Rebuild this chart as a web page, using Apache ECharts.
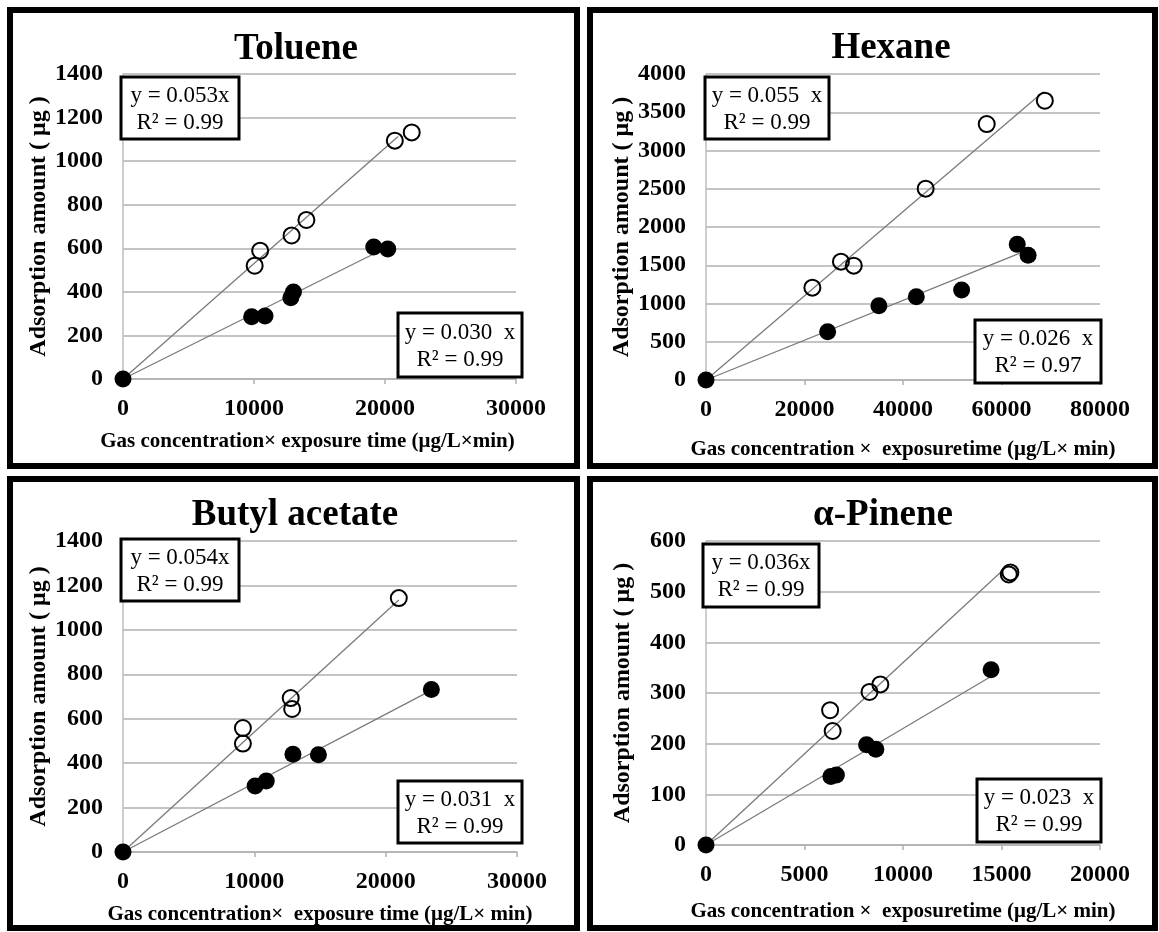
<!DOCTYPE html>
<html>
<head>
<meta charset="utf-8">
<script src="https://cdn.jsdelivr.net/npm/echarts@6/dist/echarts.min.js"></script>
<style>
  html, body { margin: 0; padding: 0; background: #fff; }
  #chart { width: 1159px; height: 932px; }
</style>
</head>
<body>
<div id="chart"></div>
<script>
// Adsorption amount vs. gas concentration × exposure time, four VOCs.
const panelTitles = ['Toluene', 'Hexane', 'Butyl acetate', 'α-Pinene'];
const xAxisNames = [
  'Gas concentration× exposure time (μg/L×min)',
  'Gas concentration ×  exposuretime (μg/L× min)',
  'Gas concentration×  exposure time (μg/L× min)',
  'Gas concentration ×  exposuretime (μg/L× min)'
];
const yAxisName = 'Adsorption amount ( μg )';

// x / y axis ranges and steps
const xMaxes = [30000, 80000, 30000, 20000];
const xSteps = [10000, 20000, 10000, 5000];
const yMaxes = [1400, 4000, 1400, 600];
const ySteps = [200, 500, 200, 100];

// Toluene
const tolueneOpenX = [10050, 10470, 12870, 14000, 20750, 22040];
const tolueneOpenY = [520, 589, 659, 730, 1094, 1132];
const tolueneFilledX = [0, 9820, 10840, 12810, 13010, 19140, 20210];
const tolueneFilledY = [0, 286, 289, 373, 399, 606, 597];

// Hexane
const hexaneOpenX = [21600, 27400, 30000, 44600, 57000, 68800];
const hexaneOpenY = [1207, 1547, 1495, 2501, 3346, 3651];
const hexaneFilledX = [0, 24700, 35100, 42700, 51900, 63200, 65400];
const hexaneFilledY = [0, 632, 972, 1089, 1176, 1773, 1630];

// Butyl acetate
const butylOpenX = [9130, 9130, 12770, 12880, 21000];
const butylOpenY = [558, 488, 693, 644, 1143];
const butylFilledX = [0, 10060, 10910, 12940, 14880, 23480];
const butylFilledY = [0, 297, 320, 440, 438, 732];

// α-Pinene
const pineneOpenX = [6300, 6430, 8300, 8850, 15370, 15450];
const pineneOpenY = [266, 225, 302, 317, 534, 538];
const pineneFilledX = [0, 6340, 6620, 8150, 8620, 14470];
const pineneFilledY = [0, 135, 138, 198, 189, 346];

// Fitted slopes (line through origin) and fit ranges
const openSlopes = [0.053, 0.055, 0.054, 0.036];
const filledSlopes = [0.030, 0.026, 0.031, 0.023];
const openFitEnd = [21000, 68500, 21000, 15300];
const filledFitEnd = [20200, 64500, 23500, 14400];

// Equation labels
const openEqText = ['y = 0.053x', 'y = 0.055  x', 'y = 0.054x', 'y = 0.036x'];
const openR2Text = ['R² = 0.99', 'R² = 0.99', 'R² = 0.99', 'R² = 0.99'];
const filledEqText = ['y = 0.030  x', 'y = 0.026  x', 'y = 0.031  x', 'y = 0.023  x'];
const filledR2Text = ['R² = 0.99', 'R² = 0.97', 'R² = 0.99', 'R² = 0.99'];

const openX = [tolueneOpenX, hexaneOpenX, butylOpenX, pineneOpenX];
const openY = [tolueneOpenY, hexaneOpenY, butylOpenY, pineneOpenY];
const filledX = [tolueneFilledX, hexaneFilledX, butylFilledX, pineneFilledX];
const filledY = [tolueneFilledY, hexaneFilledY, butylFilledY, pineneFilledY];

// ---- layout ----
const SERIF = '"Liberation Serif", "Times New Roman", serif';
const grids = [
  { left: 123, top: 74, width: 393, height: 305 },
  { left: 706, top: 74, width: 394, height: 306 },
  { left: 123, top: 541, width: 394, height: 311 },
  { left: 706, top: 541, width: 394, height: 304 }
];
const frames = [
  { x: 10, y: 10, width: 567, height: 456 },
  { x: 590, y: 10, width: 565, height: 456 },
  { x: 10, y: 479, width: 567, height: 449 },
  { x: 590, y: 479, width: 565, height: 449 }
];
const xNameGaps = [52, 59, 52, 56];
const xNamePadding = [[0, 24, 0, 0], [0, 0, 0, 0], [0, 0, 0, 0], [0, 0, 0, 0]];
const titlePos = [[296, 49], [891, 48], [295, 515], [883, 515]];
const boxTL = [
  { x: 121, y: 77, w: 118, h: 62 },
  { x: 705, y: 77, w: 124, h: 62 },
  { x: 121, y: 539, w: 118, h: 62 },
  { x: 703, y: 544, w: 116, h: 63 }
];
const boxBR = [
  { x: 398, y: 313, w: 124, h: 64 },
  { x: 975, y: 320, w: 126, h: 63 },
  { x: 398, y: 781, w: 124, h: 62 },
  { x: 977, y: 779, w: 124, h: 63 }
];

const zip = (xs, ys) => xs.map((x, i) => [x, ys[i]]);
const plain = v => String(v);

const gridOpts = [], xAxes = [], yAxes = [], series = [], graphics = [];

for (let i = 0; i < 4; i++) {
  gridOpts.push(Object.assign({ containLabel: false }, grids[i]));
  xAxes.push({
    type: 'value', gridIndex: i, min: 0, max: xMaxes[i], interval: xSteps[i],
    name: xAxisNames[i], nameLocation: 'middle', nameGap: xNameGaps[i],
    nameTextStyle: { fontFamily: SERIF, fontWeight: 'bold', fontSize: 21, color: '#000', padding: xNamePadding[i] },
    axisLine: { show: true, lineStyle: { color: '#b0b0b0', width: 1.5 } },
    axisTick: { show: true, inside: false, length: 5, lineStyle: { color: '#b0b0b0', width: 1.5 } },
    axisLabel: { fontFamily: SERIF, fontWeight: 'bold', fontSize: 24, color: '#000', margin: 18, formatter: plain },
    splitLine: { show: false }
  });
  yAxes.push({
    type: 'value', gridIndex: i, min: 0, max: yMaxes[i], interval: ySteps[i],
    name: yAxisName, nameLocation: 'middle', nameGap: 71,
    nameTextStyle: { fontFamily: SERIF, fontWeight: 'bold', fontSize: 24, color: '#000' },
    axisLine: { show: true, lineStyle: { color: '#bdbdbd', width: 1.5 } },
    axisTick: { show: false },
    axisLabel: { fontFamily: SERIF, fontWeight: 'bold', fontSize: 24, color: '#000', margin: 20, formatter: plain },
    splitLine: { show: true, lineStyle: { color: '#b0b0b0', width: 1.5 } }
  });

  // fitted lines through origin
  series.push({
    type: 'line', xAxisIndex: i, yAxisIndex: i, symbol: 'none', silent: true, z: 2,
    lineStyle: { color: '#7a7a7a', width: 1.3 },
    data: [[0, 0], [openFitEnd[i], openSlopes[i] * openFitEnd[i]]]
  });
  series.push({
    type: 'line', xAxisIndex: i, yAxisIndex: i, symbol: 'none', silent: true, z: 2,
    lineStyle: { color: '#7a7a7a', width: 1.3 },
    data: [[0, 0], [filledFitEnd[i], filledSlopes[i] * filledFitEnd[i]]]
  });
  // open markers
  series.push({
    type: 'scatter', xAxisIndex: i, yAxisIndex: i, symbol: 'circle', symbolSize: 16, z: 3,
    itemStyle: { color: 'rgba(255,255,255,0)', borderColor: '#000', borderWidth: 2, opacity: 1 },
    data: zip(openX[i], openY[i])
  });
  // filled markers
  series.push({
    type: 'scatter', xAxisIndex: i, yAxisIndex: i, symbol: 'circle', symbolSize: 17, z: 4,
    itemStyle: { color: '#000', opacity: 1 },
    data: zip(filledX[i], filledY[i])
  });

  // panel frame
  graphics.push({
    type: 'rect', z: 50, silent: true,
    shape: frames[i],
    style: { fill: 'none', stroke: '#000', lineWidth: 6 }
  });
  // panel title
  graphics.push({
    type: 'text', z: 50, silent: true,
    x: titlePos[i][0], y: titlePos[i][1],
    style: {
      text: panelTitles[i], fill: '#000', align: 'center', verticalAlign: 'middle',
      font: 'bold 37px ' + SERIF
    }
  });
  // equation boxes
  [[boxTL[i], openEqText[i], openR2Text[i]], [boxBR[i], filledEqText[i], filledR2Text[i]]].forEach(([b, eq, r2]) => {
    graphics.push({
      type: 'rect', z: 60, silent: true,
      shape: { x: b.x, y: b.y, width: b.w, height: b.h },
      style: { fill: '#fff', stroke: '#000', lineWidth: 3 }
    });
    graphics.push({
      type: 'text', z: 61, silent: true,
      x: b.x + b.w / 2, y: b.y + b.h / 2 + 1,
      style: {
        text: eq + '\n' + r2, fill: '#000', align: 'center', verticalAlign: 'middle',
        font: '23px ' + SERIF, lineHeight: 27
      }
    });
  });
}

const chart = echarts.init(document.getElementById('chart'), null, { renderer: 'canvas' });
chart.setOption({
  backgroundColor: '#fff',
  animation: false,
  grid: gridOpts,
  xAxis: xAxes,
  yAxis: yAxes,
  series: series,
  graphic: { elements: graphics }
});
</script>
</body>
</html>
